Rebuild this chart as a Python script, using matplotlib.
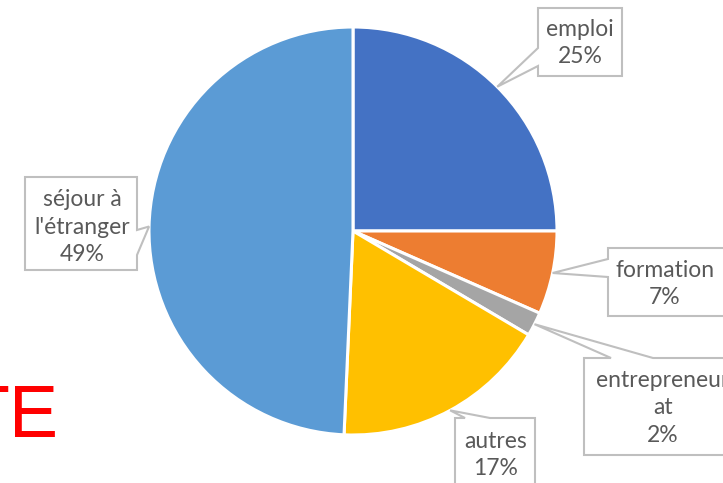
import numpy as np
import matplotlib
matplotlib.use("Agg")
import matplotlib.pyplot as plt
from matplotlib.patches import Polygon

# ---- data ----
categories = ["emploi", "formation", "entrepreneurat", "autres", "séjour à l'étranger"]
values = [25.0, 6.6, 1.9, 17.2, 49.3]
label_texts = ["emploi\n25%", "formation\n7%", "entrepreneur\nat\n2%", "autres\n17%", "séjour à\nl'étranger\n49%"]
colors = ["#4472C4", "#ED7D31", "#A5A5A5", "#FFC000", "#5B9BD5"]

W, H = 723, 483
fig = plt.figure(figsize=(W / 100, H / 100), dpi=100)
ax = fig.add_axes([0, 0, 1, 1])

cx, cy_px, R = 353, 231, 204
center = (cx, H - cy_px)

wedges, _ = ax.pie(values, colors=colors, startangle=90, counterclock=False,
                   radius=R, center=center,
                   wedgeprops=dict(edgecolor="white", linewidth=2.2))
ax.set_xlim(0, W)
ax.set_ylim(0, H)
ax.set_aspect("equal")
ax.axis("off")

# callout layout (pixel coords, y down): box (x0, y0, x1, y1), pointer side, base points, text center
layout = [
    dict(box=(538, 8, 622, 76), side="left", base=(48, 66), tc=(580, 43)),
    dict(box=(608, 248, 740, 316), side="left", base=(259, 277), tc=(665, 284)),
    dict(box=(584, 358, 760, 455), side="top", base=(611, 653), tc=(663, 408)),
    dict(box=(455, 418, 535, 500), side="top", base=(465, 490), tc=(496, 455)),
    dict(box=(25, 177, 137, 270), side="right", base=(230, 255), tc=(82, 227)),
]

for w, txt, lay in zip(wedges, label_texts, layout):
    theta = np.deg2rad((w.theta1 + w.theta2) / 2)
    tip = (center[0] + R * np.cos(theta), center[1] + R * np.sin(theta))
    x0, y0, x1, y1 = lay["box"]
    b1, b2 = lay["base"]
    t = lambda x, y: (x, H - y)
    if lay["side"] == "left":
        pts = [t(x0, y0), t(x1, y0), t(x1, y1), t(x0, y1), t(x0, b2), tip, t(x0, b1)]
    elif lay["side"] == "top":
        pts = [t(x0, y0), t(b1, y0), tip, t(b2, y0), t(x1, y0), t(x1, y1), t(x0, y1)]
    else:  # right
        pts = [t(x0, y0), t(x1, y0), t(x1, b1), tip, t(x1, b2), t(x1, y1), t(x0, y1)]
    poly = Polygon(pts, closed=True, facecolor="white", edgecolor="#BFBFBF",
                   linewidth=1.5, zorder=5, joinstyle="miter")
    ax.add_patch(poly)
    ax.text(lay["tc"][0], H - lay["tc"][1], txt, ha="center", va="center",
            multialignment="center", fontsize=16.5, family="Lato", color="#595959",
            linespacing=1.36, zorder=6)

ax.text(-36, H - 437, "TE", ha="left", va="baseline", fontsize=53,
        family="Liberation Sans", color="#FF0000")

fig.savefig("out.png", dpi=100)
